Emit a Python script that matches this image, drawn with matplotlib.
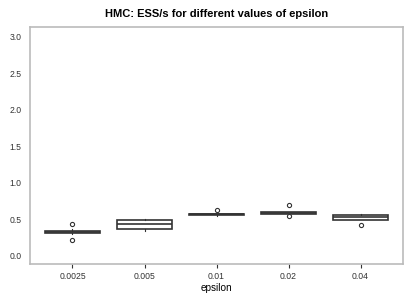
import matplotlib
matplotlib.use("Agg")
import matplotlib.pyplot as plt

plt.rcParams['font.family'] = ['Liberation Sans', 'DejaVu Sans']

# tick labels on the x axis
epsilons = ['0.0025', '0.005', '0.01', '0.02', '0.04']

# box summaries (ESS/s)
q1 = [0.31, 0.366, 0.557, 0.575, 0.498]
med = [0.33, 0.434, 0.57, 0.588, 0.53]
q3 = [0.345, 0.486, 0.58, 0.60, 0.557]
whislo = [0.30, 0.348, 0.544, 0.575, 0.498]
whishi = [0.375, 0.507, 0.58, 0.60, 0.575]
fliers = [[0.44, 0.215], [], [0.635], [0.70, 0.553], [0.43]]

stats = []
for i in range(len(epsilons)):
    stats.append(dict(med=med[i], q1=q1[i], q3=q3[i], whislo=whislo[i],
                      whishi=whishi[i], fliers=fliers[i], label=epsilons[i]))

fig = plt.figure(figsize=(4.15, 2.97), dpi=100)
ax = fig.add_axes([0.0723, 0.111, 0.899, 0.798])

edge = '#333333'
ax.bxp(stats, positions=range(len(epsilons)), widths=0.76, patch_artist=True,
       showcaps=False,
       boxprops=dict(facecolor='white', edgecolor=edge, linewidth=1.2),
       medianprops=dict(color=edge, linewidth=1.2),
       whiskerprops=dict(color=edge, linewidth=0.8),
       flierprops=dict(marker='o', markersize=3, markerfacecolor='white',
                       markeredgecolor=edge, markeredgewidth=0.8))

ax.set_xlim(-0.59, 4.59)
ax.set_ylim(-0.11, 3.13)
ax.set_yticks([0.0, 0.5, 1.0, 1.5, 2.0, 2.5, 3.0])
ax.set_xticks(range(len(epsilons)))
ax.set_xticklabels(epsilons)

for s in ax.spines.values():
    s.set_color('#bbbbbb')
    s.set_linewidth(1.2)

ax.tick_params(axis='y', length=0, pad=6, labelsize=6.2, labelcolor='#333333')
ax.tick_params(axis='x', length=3, width=0.8, color='#333333', pad=3,
               labelsize=6.2, labelcolor='#333333')

ax.set_xlabel('epsilon', fontsize=7.2, labelpad=1)
ax.set_title('HMC: ESS/s for different values of epsilon', fontsize=8,
             fontweight='bold', pad=7)

fig.savefig('out.png', dpi=100)
